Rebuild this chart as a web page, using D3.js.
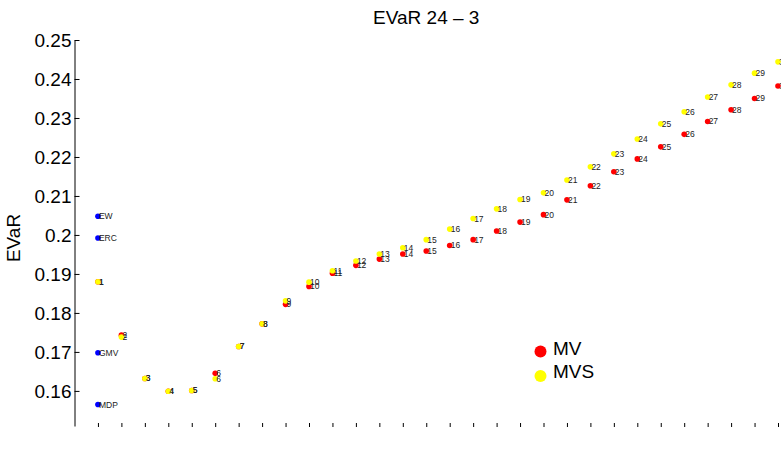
<!DOCTYPE html>
<html>
<head>
<meta charset="utf-8">
<script src="https://cdn.jsdelivr.net/npm/d3@7"></script>
<style>
  body { margin: 0; background: #fff; }
  text { font-family: 'Liberation Sans', Arial, Helvetica, sans-serif; }
</style>
</head>
<body>
<svg id="chart" width="781" height="452"></svg>
<script>
// portfolio index 1..30
const ids = d3.range(1, 31);

// EVaR of MV portfolios
const mv = [0.1880, 0.1743, 0.1632, 0.1599, 0.1601, 0.1645, 0.1714, 0.1772, 0.1822, 0.1868,
  0.1902, 0.1922, 0.1938, 0.1951, 0.1959, 0.1973, 0.1988, 0.2010, 0.2033, 0.2052,
  0.2090, 0.2126, 0.2162, 0.2195, 0.2226, 0.2258, 0.2291, 0.2321, 0.2350, 0.2382];

// EVaR of MVS portfolios
const mvs = [0.1880, 0.1738, 0.1632, 0.1599, 0.1601, 0.1631, 0.1714, 0.1772, 0.1831, 0.1879,
  0.1908, 0.1933, 0.1951, 0.1967, 0.1988, 0.2015, 0.2042, 0.2067, 0.2091, 0.2108,
  0.2141, 0.2175, 0.2208, 0.2246, 0.2285, 0.2316, 0.2354, 0.2385, 0.2415, 0.2444];

// benchmark portfolios, drawn at index 1
const benchNames = ['EW', 'ERC', 'GMV', 'MDP'];
const benchVals = [0.2048, 0.1992, 0.1698, 0.1565];

const yTicks = [0.16, 0.17, 0.18, 0.19, 0.2, 0.21, 0.22, 0.23, 0.24, 0.25];

const svg = d3.select('#chart');

const x = d3.scaleLinear().domain([0, 30]).range([74.5, 778]);
const y = d3.scaleLinear().domain([0.151, 0.25]).range([426, 40]);

// y axis, ticks pointing in
svg.append('g')
  .attr('transform', `translate(${x(0)},0)`)
  .call(d3.axisLeft(y).tickValues(yTicks).tickSizeInner(-5).tickSizeOuter(0)
    .tickPadding(3).tickFormat(d => String(+d.toFixed(2))))
  .call(g => g.selectAll('text').attr('font-size', 19).attr('fill', '#000')
    .style('font-family', "'Liberation Sans', Arial, sans-serif"))
  .call(g => g.selectAll('line,path').attr('stroke', '#000'));

// bottom ticks only, no baseline
svg.append('g')
  .attr('transform', `translate(0,427)`)
  .call(d3.axisBottom(x).tickValues(ids).tickSizeInner(-4).tickSizeOuter(0).tickFormat(''))
  .call(g => g.select('.domain').remove())
  .call(g => g.selectAll('line').attr('stroke', '#000'));

svg.append('text')
  .attr('x', (x(0) + x(30)) / 2).attr('y', 24)
  .attr('text-anchor', 'middle').attr('font-size', 19)
  .text('EVaR 24 \u2013 3');

svg.append('text')
  .attr('transform', 'translate(20,238) rotate(-90)')
  .attr('text-anchor', 'middle').attr('font-size', 19)
  .text('EVaR');

function series(vals, color) {
  const g = svg.append('g');
  g.selectAll('circle').data(vals).join('circle')
    .attr('cx', (d, i) => x(ids[i]))
    .attr('cy', d => y(d))
    .attr('r', 2.8)
    .attr('fill', color);
  g.selectAll('text').data(vals).join('text')
    .attr('x', (d, i) => x(ids[i]) + 1)
    .attr('y', d => y(d))
    .attr('dy', '0.35em')
    .attr('font-size', 8.5)
    .attr('fill', '#222')
    .text((d, i) => ids[i]);
}

series(mv, '#ff0000');
series(mvs, '#ffff00');

const bench = svg.append('g');
bench.selectAll('circle').data(benchVals).join('circle')
  .attr('cx', x(1)).attr('cy', d => y(d)).attr('r', 2.8).attr('fill', '#0000ff');
bench.selectAll('text').data(benchVals).join('text')
  .attr('x', x(1) + 1).attr('y', d => y(d)).attr('dy', '0.35em')
  .attr('font-size', 8.5).attr('fill', '#222')
  .text((d, i) => benchNames[i]);

// legend
const legend = [['MV', '#ff0000', 351.5, 354.5], ['MVS', '#ffff00', 376, 377.5]];
const lg = svg.append('g');
lg.selectAll('circle').data(legend).join('circle')
  .attr('cx', 540.5).attr('cy', d => d[2]).attr('r', 6).attr('fill', d => d[1]);
lg.selectAll('text').data(legend).join('text')
  .attr('x', 553).attr('y', d => d[3]).attr('font-size', 19)
  .text(d => d[0]);
</script>
</body>
</html>
